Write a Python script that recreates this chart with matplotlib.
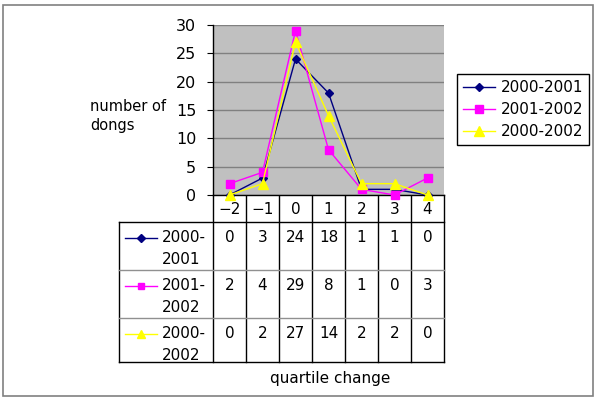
import matplotlib
matplotlib.use("Agg")
import matplotlib.pyplot as plt
import numpy as np
from matplotlib.patches import Rectangle

categories = ["-2", "-1", "0", "1", "2", "3", "4"]
series_names = ["2000-2001", "2001-2002", "2000-2002"]
table_labels = [["2000-", "2001"], ["2001-", "2002"], ["2000-", "2002"]]
s_2000_2001 = [0, 3, 24, 18, 1, 1, 0]
s_2001_2002 = [2, 4, 29, 8, 1, 0, 3]
s_2000_2002 = [0, 2, 27, 14, 2, 2, 0]
series_values = [s_2000_2001, s_2001_2002, s_2000_2002]
yticks = [0, 5, 10, 15, 20, 25, 30]

colors = ["#000080", "#FF00FF", "#FFFF00"]
markers = ["D", "s", "^"]
msizes = [4.5, 5.5, 6.5]

W, H = 597, 398
fig = plt.figure(figsize=(W / 100, H / 100), dpi=100)
bg = fig.add_axes([0, 0, 1, 1])
bg.set_xlim(0, W)
bg.set_ylim(H, 0)
bg.axis("off")
bg.add_patch(Rectangle((3, 5), 590, 391, fill=False, edgecolor="#808080", lw=1.2))

ax = fig.add_axes([213 / W, 1 - 195 / H, 231 / W, 170 / H])
ax.set_facecolor("#C0C0C0")
x = np.arange(len(categories))
for vals, c, m, ms, name in zip(series_values, colors, markers, msizes, series_names):
    ax.plot(x, vals, color=c, marker=m, markersize=ms, lw=1.0, label=name,
            markeredgecolor=c, clip_on=False, zorder=3)
ax.set_xlim(-0.5, len(categories) - 0.5)
ax.set_ylim(0, 30)
ax.set_yticks(yticks)
ax.set_xticks([])
ax.yaxis.grid(True, color="#808080", lw=1.0)
ax.set_axisbelow(True)
for s in ["top", "right"]:
    ax.spines[s].set_visible(False)
for s in ["left", "bottom"]:
    ax.spines[s].set_color("black")
    ax.spines[s].set_linewidth(1.0)
ax.tick_params(axis="y", direction="out", length=4, labelsize=11.5, colors="black", pad=8)

ax.legend(loc="upper left", bbox_to_anchor=(457 / W, 1 - 74 / H), bbox_transform=fig.transFigure,
          borderaxespad=0, fancybox=False, edgecolor="black", framealpha=1, fontsize=11,
          handlelength=2.1, labelspacing=0.45, borderpad=0.4, handletextpad=0.35)

# table
fig.canvas.draw()
def px(xd):
    return ax.transData.transform((xd, 0))[0]

edges = [px(k - 0.5) for k in range(len(categories) + 1)]
top, hdr, rows_y, bottom = 195, 222, [222, 270, 318], 362
left = 119
for e in edges:
    bg.plot([e, e], [top, bottom], color="black", lw=1.0)
bg.plot([left, left], [hdr, bottom], color="black", lw=1.0)
bg.plot([left, edges[-1]], [hdr, hdr], color="black", lw=1.0)
bg.plot([left, edges[-1]], [270, 270], color="#909090", lw=1.0)
bg.plot([left, edges[-1]], [318, 318], color="#909090", lw=1.0)
bg.plot([left, edges[-1]], [bottom, bottom], color="black", lw=1.0)

for i, cat in enumerate(categories):
    bg.text(px(i), 209, cat.replace("-", "\u2212"), ha="center", va="center", fontsize=11)
for r, (vals, lab, c, m, ms) in enumerate(zip(series_values, table_labels, colors, markers, msizes)):
    y0 = rows_y[r]
    for i, v in enumerate(vals):
        bg.text(px(i), y0 + 16, str(v), ha="center", va="center", fontsize=11)
    bg.plot([125, 157], [y0 + 16, y0 + 16], color=c, lw=1.0)
    bg.plot([141], [y0 + 16], marker=m, color=c, markersize=ms - 0.5, markeredgecolor=c)
    bg.text(162, y0 + 16, lab[0], ha="left", va="center", fontsize=11)
    bg.text(162, y0 + 37, lab[1], ha="left", va="center", fontsize=11)

bg.text(330, 379, "quartile change", ha="center", va="center", fontsize=11)
bg.text(90, 116, "number of\ndongs", ha="left", va="center", fontsize=10.5, linespacing=1.35)

fig.savefig("out.png", dpi=100)
